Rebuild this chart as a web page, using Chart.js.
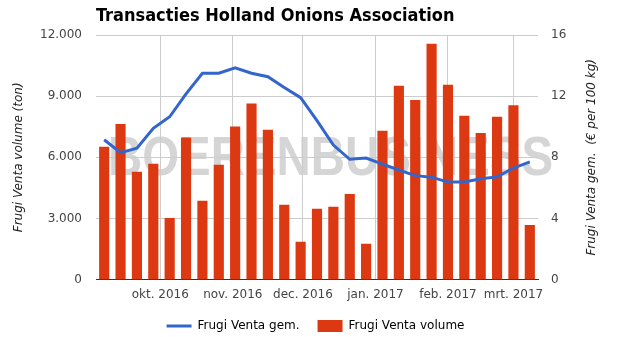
<!DOCTYPE html>
<html>
<head>
<meta charset="utf-8">
<script src="https://cdn.jsdelivr.net/npm/chart.js@4.4.1/dist/chart.umd.min.js"></script>
<style>
    html, body { margin: 0; padding: 0; background: #fff; }
    #wrap { width: 631px; height: 337px; }
</style>
</head>
<body>
<div id="wrap"><canvas id="chart"></canvas></div>
<script>
// weekly transactions, sept 2016 - march 2017
const weekDates = [
    '2016-09-07', '2016-09-14', '2016-09-21', '2016-09-28', '2016-10-05', '2016-10-12', '2016-10-19',
    '2016-10-26', '2016-11-02', '2016-11-09', '2016-11-16', '2016-11-23', '2016-11-30', '2016-12-07',
    '2016-12-14', '2016-12-21', '2016-12-28', '2017-01-04', '2017-01-11', '2017-01-18', '2017-01-25',
    '2017-02-01', '2017-02-08', '2017-02-15', '2017-02-22', '2017-03-01', '2017-03-08'
];
const volume = [
    6500, 7620, 5280, 5670, 3000, 6950, 3850, 5620, 7490, 8620, 7340, 3660, 1840, 3460,
    3560, 4180, 1740, 7290, 9490, 8800, 11560, 9540, 8020, 7180, 7970, 8540, 2660
];
const price = [
    9.15, 8.3, 8.6, 9.9, 10.65, 12.15, 13.5, 13.5, 13.85, 13.5, 13.27, 12.57, 11.9, 10.4,
    8.8, 7.87, 7.95, 7.55, 7.17, 6.8, 6.7, 6.38, 6.38, 6.6, 6.72, 7.3, 7.7
];
const monthStarts = ['2016-10-01', '2016-11-01', '2016-12-01', '2017-01-01', '2017-02-01', '2017-03-01'];
const monthLabels = ['okt. 2016', 'nov. 2016', 'dec. 2016', 'jan. 2017', 'feb. 2017', 'mrt. 2017'];

const origin = Date.UTC(2016, 9, 1);
const toDay = s => {
    const p = s.split('-').map(Number);
    return (Date.UTC(p[0], p[1] - 1, p[2]) - origin) / 86400000;
};
const weekX = weekDates.map(toDay);
const monthX = monthStarts.map(toDay);

const tickFont = {family: '"DejaVu Sans"', size: 12};
const tickColor = '#444';

const thousands = v => String(v).replace(/\B(?=(\d{3})+(?!\d))/g, '.');

// grey watermark behind grid and bars
const watermark = {
    id: 'watermark',
    beforeDraw(chart) {
        const ctx = chart.ctx;
        ctx.save();
        ctx.font = 'bold 56px "Liberation Sans"';
        ctx.fillStyle = '#d5d5d5';
        ctx.textBaseline = 'alphabetic';
        const text = 'BOERENBUSINESS';
        const w = ctx.measureText(text).width;
        ctx.translate(108, 175);
        ctx.scale(445 / w, 1);
        ctx.fillText(text, 0, 0);
        ctx.restore();
    }
};

// title and axis titles (right one reads bottom to top)
const titles = {
    id: 'titles',
    afterDraw(chart) {
        const ctx = chart.ctx;
        const area = chart.chartArea;
        const midY = (area.top + area.bottom) / 2;
        ctx.save();
        ctx.fillStyle = '#000';
        ctx.font = 'bold 18px "DejaVu Sans Condensed", "DejaVu Sans"';
        ctx.textAlign = 'left';
        ctx.textBaseline = 'middle';
        ctx.fillText('Transacties Holland Onions Association', area.left, 16);

        ctx.font = 'italic 12px "DejaVu Sans"';
        ctx.fillStyle = '#222';
        ctx.textAlign = 'center';
        ctx.translate(19, midY);
        ctx.rotate(-Math.PI / 2);
        ctx.fillText('Frugi Venta volume (ton)', 0, 0);
        ctx.restore();

        ctx.save();
        ctx.font = 'italic 12px "DejaVu Sans"';
        ctx.fillStyle = '#222';
        ctx.textAlign = 'center';
        ctx.textBaseline = 'middle';
        ctx.translate(592, midY);
        ctx.rotate(-Math.PI / 2);
        ctx.fillText('Frugi Venta gem.  (\u20ac per 100 kg)', 0, 0);
        ctx.restore();
    }
};

new Chart(document.getElementById('chart'), {
    type: 'bar',
    data: {
        datasets: [{
            type: 'line',
            label: 'Frugi Venta gem.',
            data: weekX.map((x, i) => ({x: x, y: price[i]})),
            yAxisID: 'yR',
            borderColor: '#3366cc',
            borderWidth: 3,
            pointRadius: 0,
            tension: 0
        }, {
            type: 'bar',
            label: 'Frugi Venta volume',
            data: weekX.map((x, i) => ({x: x, y: volume[i]})),
            yAxisID: 'y',
            backgroundColor: '#dc3912',
            barThickness: 9.5
        }]
    },
    options: {
        responsive: true,
        maintainAspectRatio: false,
        animation: false,
        layout: {padding: {top: 35, bottom: -5, left: 0, right: 0}},
        plugins: {
            legend: {
                position: 'bottom',
                labels: {
                    usePointStyle: true,
                    pointStyleWidth: 25,
                    boxHeight: 13,
                    padding: 18,
                    color: '#222',
                    font: tickFont,
                    generateLabels: chart => chart.data.datasets.map((ds, i) => ({
                        text: ds.label,
                        datasetIndex: i,
                        fillStyle: ds.type === 'line' ? ds.borderColor : ds.backgroundColor,
                        strokeStyle: ds.type === 'line' ? ds.borderColor : ds.backgroundColor,
                        lineWidth: ds.type === 'line' ? 3 : 0,
                        pointStyle: ds.type === 'line' ? 'line' : 'rect',
                        hidden: false
                    }))
                }
            },
            tooltip: {enabled: false}
        },
        scales: {
            x: {
                type: 'linear',
                offset: false,
                min: weekX[0] - 3.5,
                max: weekX[weekX.length - 1] + 3.5,
                afterBuildTicks: scale => {
                    scale.ticks = monthX.map(v => ({value: v}));
                },
                afterFit: scale => { scale.height -= 8; },
                ticks: {
                    autoSkip: false,
                    maxRotation: 0,
                    padding: 8,
                    color: tickColor,
                    font: tickFont,
                    callback: (v, i) => monthLabels[i]
                },
                grid: {color: '#cccccc', lineWidth: 1, drawTicks: false, offset: false},
                border: {color: '#333', width: 1}
            },
            y: {
                position: 'left',
                min: 0,
                max: 12000,
                afterFit: scale => { scale.width = 96; },
                ticks: {
                    stepSize: 3000,
                    padding: 14,
                    color: tickColor,
                    font: tickFont,
                    callback: v => thousands(v)
                },
                grid: {color: '#cccccc', drawTicks: false},
                border: {display: false}
            },
            yR: {
                position: 'right',
                min: 0,
                max: 16,
                afterFit: scale => { scale.width = 93; },
                ticks: {
                    stepSize: 4,
                    padding: 13,
                    color: tickColor,
                    font: tickFont
                },
                grid: {display: false, drawTicks: false},
                border: {display: false}
            }
        }
    },
    plugins: [watermark, titles]
});
</script>
</body>
</html>
